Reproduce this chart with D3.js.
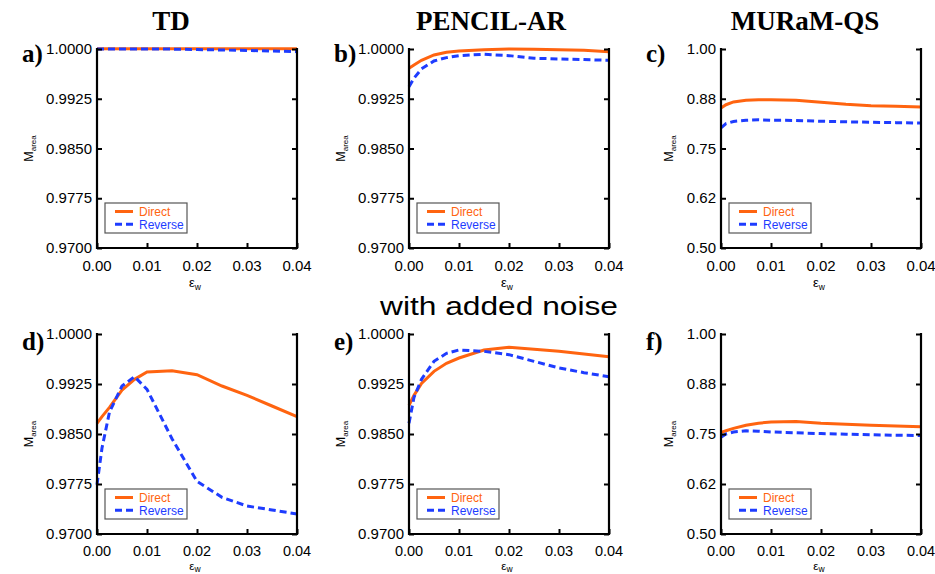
<!DOCTYPE html>
<html><head><meta charset="utf-8">
<script src="https://cdn.jsdelivr.net/npm/d3@7"></script>
<style>html,body{margin:0;padding:0;background:#fff;}</style>
</head><body>
<svg id="chart" width="935" height="574"></svg>
<script>
// ---- data ----
const xValues = [0, 0.001, 0.0025, 0.005, 0.0075, 0.01, 0.015, 0.02, 0.025, 0.03, 0.035, 0.04];
const xTicks = [0, 0.01, 0.02, 0.03, 0.04];
const xTickLabels = ["0.00", "0.01", "0.02", "0.03", "0.04"];

const fineTicks = [0.97, 0.9775, 0.985, 0.9925, 1.0];
const fineTickLabels = ["0.9700", "0.9775", "0.9850", "0.9925", "1.0000"];
const coarseTicks = [0.5, 0.625, 0.75, 0.875, 1.0];
const coarseTickLabels = ["0.50", "0.62", "0.75", "0.88", "1.00"];

const columnTitles = ["TD", "PENCIL-AR", "MURaM-QS"];
const panelLetters = ["a)", "b)", "c)", "d)", "e)", "f)"];
const seriesNames = ["Direct", "Reverse"];

const tdDirect     = [1.00005, 1.00005, 1.00005, 1.00005, 1.00005, 1.00005, 1.00005, 1.00004, 1.00004, 1.00003, 1.00003, 1.00002];
const tdReverse    = [1.0000, 1.0000, 1.0000, 1.0000, 1.0000, 1.0000, 0.99998, 0.99992, 0.99985, 0.99978, 0.9997, 0.9996];
const pencilDirect = [0.9971, 0.9976, 0.9983, 0.9991, 0.9995, 0.9997, 0.9999, 1.0000, 0.99995, 0.9999, 0.9998, 0.9996];
const pencilReverse= [0.9943, 0.9956, 0.9970, 0.9982, 0.9987, 0.9990, 0.9992, 0.9990, 0.9986, 0.9985, 0.9984, 0.9983];
const muramDirect  = [0.852, 0.860, 0.867, 0.871, 0.8725, 0.8725, 0.871, 0.866, 0.861, 0.8575, 0.856, 0.854];
const muramReverse = [0.802, 0.8125, 0.818, 0.821, 0.822, 0.821, 0.8205, 0.8185, 0.817, 0.816, 0.815, 0.814];

const tdNoiseDirect     = [0.9866, 0.9876, 0.9890, 0.9916, 0.9932, 0.9943, 0.9945, 0.9939, 0.9922, 0.9908, 0.9892, 0.9876];
const tdNoiseReverse    = [0.9774, 0.9829, 0.9883, 0.9922, 0.9936, 0.9917, 0.9843, 0.9779, 0.9755, 0.9742, 0.9736, 0.9730];
const pencilNoiseDirect = [0.9893, 0.9908, 0.9926, 0.9944, 0.9956, 0.9964, 0.9976, 0.9980, 0.9977, 0.9974, 0.9970, 0.9966];
const pencilNoiseReverse= [0.9866, 0.9905, 0.9932, 0.9959, 0.9971, 0.9976, 0.9974, 0.9969, 0.9959, 0.9949, 0.9942, 0.9936];
const muramNoiseDirect  = [0.754, 0.758, 0.764, 0.772, 0.777, 0.780, 0.7815, 0.777, 0.7745, 0.772, 0.770, 0.768];
const muramNoiseReverse = [0.742, 0.750, 0.755, 0.758, 0.757, 0.755, 0.753, 0.751, 0.7495, 0.748, 0.747, 0.746];

const middleCaption = "with added noise";

// ---- layout ----
const svg = d3.select("#chart");
const colors = {Direct: "#ff6410", Reverse: "#1e3cff"};
const colLeft = [97, 409, 721];
const plotW = 200;
const rows = [
  {top: 49, bottom: 248, tickBase: 271, tickSize: 15, epsBase: 287, epsSize: 13, subDy: 3, letterBase: 62},
  {top: 334, bottom: 534, tickBase: 556, tickSize: 14.5, epsBase: 570, epsSize: 11.5, subDy: 1.5, letterBase: 350}
];

const panels = [
  {row:0,col:0,fine:true, d:tdDirect, r:tdReverse},
  {row:0,col:1,fine:true, d:pencilDirect, r:pencilReverse},
  {row:0,col:2,fine:false,d:muramDirect, r:muramReverse},
  {row:1,col:0,fine:true, d:tdNoiseDirect, r:tdNoiseReverse},
  {row:1,col:1,fine:true, d:pencilNoiseDirect, r:pencilNoiseReverse},
  {row:1,col:2,fine:false,d:muramNoiseDirect, r:muramNoiseReverse}
];

const titleCenters = [171, 491, 805];
columnTitles.forEach((t,i) => {
  svg.append("text").attr("x", titleCenters[i]).attr("y", 30)
    .attr("text-anchor","middle")
    .style("font-family","'Liberation Serif','Times New Roman',serif")
    .style("font-weight","bold").style("font-size","27px").text(t);
});

svg.append("text").attr("x", 380).attr("y", 315)
  .attr("textLength", 238).attr("lengthAdjust","spacingAndGlyphs")
  .style("font-family","'Liberation Sans',Arial,sans-serif")
  .style("font-size","25px").text(middleCaption);

const sans = "'Liberation Sans',Arial,Helvetica,sans-serif";

panels.forEach((p, i) => {
  const R = rows[p.row];
  const left = colLeft[p.col];
  const x = d3.scaleLinear().domain([0, 0.04]).range([left, left + plotW]);
  const yTicks = p.fine ? fineTicks : coarseTicks;
  const yLabels = p.fine ? fineTickLabels : coarseTickLabels;
  const y = d3.scaleLinear().domain([yTicks[0], yTicks[yTicks.length-1]]).range([R.bottom, R.top]);
  const g = svg.append("g");

  // data lines
  const line = d3.line().x((v,k) => x(xValues[k])).y(v => y(v));
  g.append("path").datum(p.d).attr("d", line).attr("fill","none")
    .attr("stroke", colors.Direct).attr("stroke-width", 3);
  g.append("path").datum(p.r).attr("d", line).attr("fill","none")
    .attr("stroke", colors.Reverse).attr("stroke-width", 3)
    .attr("stroke-dasharray","7,4");

  // axes: left, right, bottom (inward ticks)
  const leftAx = d3.axisRight(y).tickValues(yTicks).tickSize(5).tickFormat("");
  const rightAx = d3.axisLeft(y).tickValues(yTicks).tickSize(5).tickFormat("");
  const botAx = d3.axisTop(x).tickValues(xTicks).tickSize(5).tickFormat("");
  [ [leftAx, `translate(${left},0)`], [rightAx, `translate(${left+plotW},0)`], [botAx, `translate(0,${R.bottom})`] ]
    .forEach(([ax, tr]) => {
      const a = g.append("g").attr("transform", tr).call(ax);
      a.select(".domain").remove();
      a.selectAll(".tick line").attr("stroke","#000").attr("stroke-width",2);
    });
  g.append("path")
    .attr("d", `M${left},${R.top-1}V${R.bottom}H${left+plotW}V${R.top-1}`)
    .attr("fill","none").attr("stroke","#000").attr("stroke-width",2.2);

  // tick labels
  yTicks.forEach((t,k) => {
    g.append("text").attr("x", left - 5).attr("y", y(t)).attr("dy","0.34em")
      .attr("text-anchor","end").style("font-family", sans).style("font-size","15px")
      .text(yLabels[k]);
  });
  xTicks.forEach((t,k) => {
    g.append("text").attr("x", x(t)).attr("y", R.tickBase)
      .attr("text-anchor","middle").style("font-family", sans).style("font-size", R.tickSize + "px")
      .text(xTickLabels[k]);
  });

  // x label
  const xl = g.append("text").attr("x", left + plotW/2 - 2).attr("y", R.epsBase)
    .attr("text-anchor","middle").style("font-family", sans).style("font-size", R.epsSize + "px");
  xl.append("tspan").text("ε");
  xl.append("tspan").attr("dy", R.subDy).style("font-size","8.5px").text("w");

  // y label
  const ylx = left - (p.fine ? 64 : 48);
  const ymid = (R.top + R.bottom)/2;
  const yl = g.append("text").attr("transform", `translate(${ylx},${ymid}) rotate(-90)`)
    .attr("text-anchor","middle").style("font-family", sans).style("font-size","12.5px");
  yl.append("tspan").text("M");
  yl.append("tspan").attr("dy", 3).style("font-size","8px").text("area");

  // panel letter
  g.append("text").attr("x", left - 75).attr("y", R.letterBase)
    .style("font-family","'Liberation Serif','Times New Roman',serif")
    .style("font-weight","bold").style("font-size","25px").text(panelLetters[i]);

  // legend
  const lx = left + 8, ly = R.bottom - 45;
  const lg = g.append("g").attr("transform", `translate(${lx},${ly})`);
  lg.append("rect").attr("width", 82).attr("height", 30).attr("fill","#fff")
    .attr("stroke","#555").attr("stroke-width",1.2);
  seriesNames.forEach((s, k) => {
    const yy = 8.5 + k * 12.8;
    lg.append("line").attr("x1", 10).attr("x2", 28).attr("y1", yy).attr("y2", yy)
      .attr("stroke", colors[s]).attr("stroke-width", 3)
      .attr("stroke-dasharray", s === "Reverse" ? "7,4" : null);
    lg.append("text").attr("x", 34).attr("y", yy + 4.3)
      .style("font-family", sans).style("font-size","12px").attr("fill", colors[s]).text(s);
  });
});
</script>
</body></html>
